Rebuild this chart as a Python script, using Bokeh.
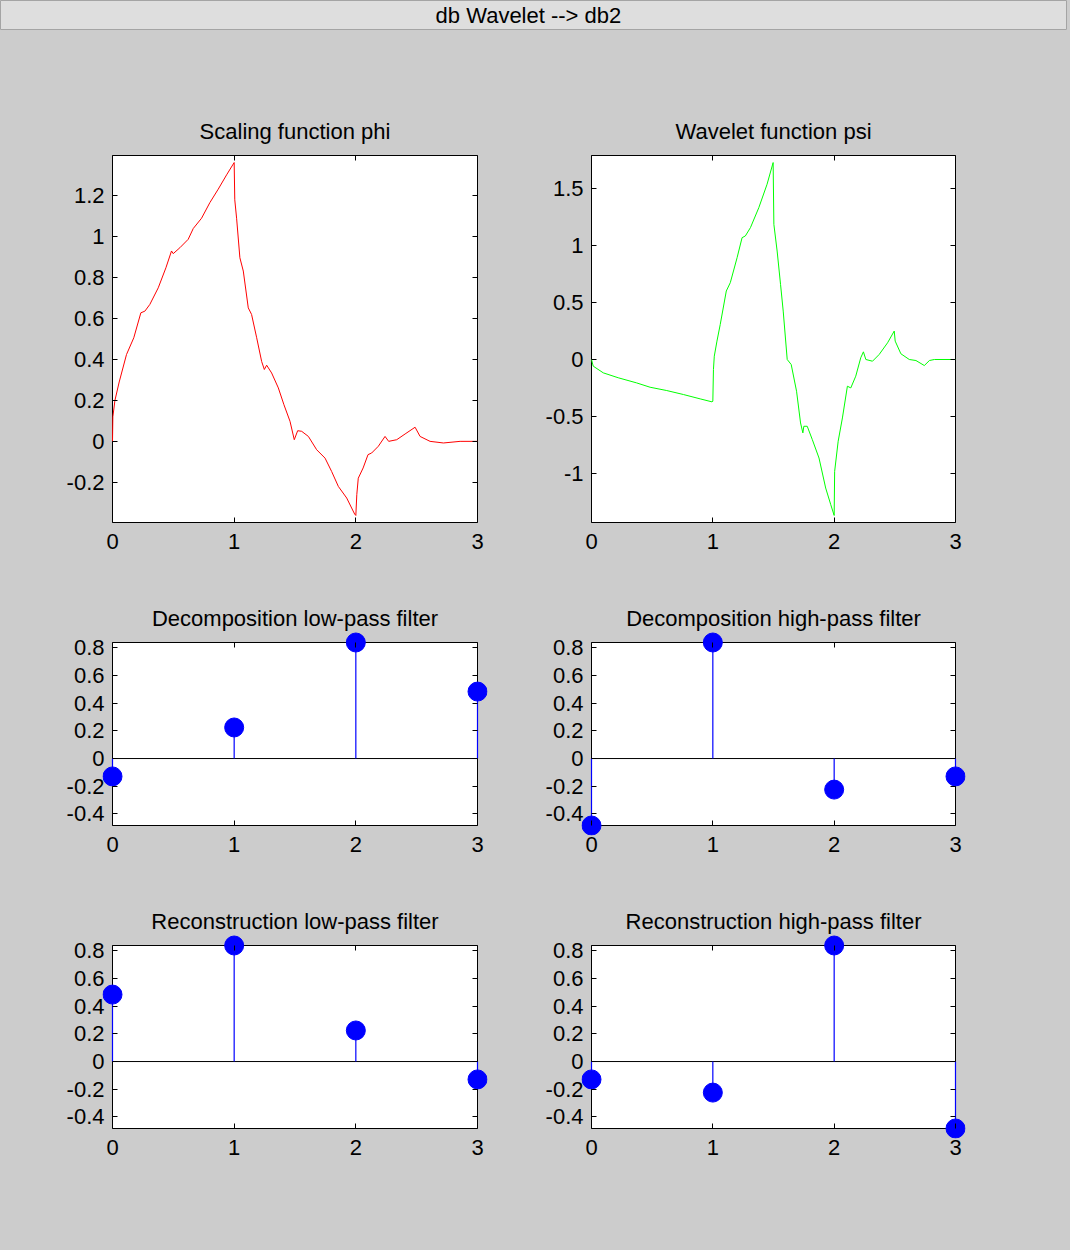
import re
from bokeh.plotting import figure
from bokeh.models import Range1d, LinearAxis, FixedTicker, Label
from bokeh.layouts import column, row
from bokeh.embed import file_html
from bokeh.resources import INLINE

FONT = "Liberation Sans"
FONT_SIZE = "22px"
BG = "#cccccc"

window_title = "db Wavelet -->  db2"

# ---- data ----
phi_x = [0, 0.003, 0.02, 0.055, 0.115, 0.175, 0.233, 0.266, 0.307, 0.376, 0.439, 0.485, 0.499,
         0.554, 0.622, 0.664, 0.732, 0.8, 0.869, 0.938, 1.0, 1.005, 1.02, 1.047, 1.075, 1.116,
         1.143, 1.185, 1.226, 1.248, 1.267, 1.308, 1.363, 1.409, 1.459, 1.494, 1.522, 1.555,
         1.61, 1.678, 1.747, 1.801, 1.856, 1.925, 1.99, 2.0, 2.008, 2.02, 2.06, 2.1, 2.13,
         2.185, 2.24, 2.27, 2.336, 2.405, 2.487, 2.528, 2.61, 2.72, 2.857, 3.0]
phi_y = [0, 0.12, 0.2, 0.29, 0.424, 0.506, 0.628, 0.636, 0.669, 0.75, 0.848, 0.93, 0.917,
         0.946, 0.987, 1.04, 1.09, 1.166, 1.232, 1.302, 1.362, 1.18, 1.09, 0.897, 0.832, 0.652,
         0.62, 0.506, 0.39, 0.351, 0.372, 0.334, 0.261, 0.179, 0.098, 0.008, 0.052, 0.049,
         0.024, -0.041, -0.082, -0.147, -0.22, -0.277, -0.355, -0.362, -0.26, -0.18, -0.13,
         -0.065, -0.057, -0.024, 0.024, 0.0, 0.008, 0.036, 0.069, 0.024, 0.0, -0.008, 0.0, 0.0]

psi_x = [0, 0.014, 0.097, 0.22, 0.372, 0.483, 0.62, 0.758, 0.896, 0.993, 1.0, 1.005, 1.012,
         1.034, 1.061, 1.111, 1.144, 1.2, 1.241, 1.268, 1.31, 1.379, 1.447, 1.497, 1.503, 1.53,
         1.558, 1.58, 1.613, 1.646, 1.69, 1.723, 1.742, 1.75, 1.778, 1.82, 1.875, 1.93, 1.972,
         2.0, 2.004, 2.033, 2.068, 2.109, 2.137, 2.178, 2.219, 2.241, 2.261, 2.316, 2.371,
         2.44, 2.495, 2.503, 2.55, 2.619, 2.674, 2.743, 2.785, 2.826, 3.0]
psi_y = [0, -0.058, -0.117, -0.16, -0.205, -0.243, -0.272, -0.307, -0.345, -0.371, -0.366,
         -0.088, 0.029, 0.161, 0.307, 0.6, 0.673, 0.892, 1.067, 1.082, 1.155, 1.33, 1.535,
         1.725, 1.184, 0.95, 0.658, 0.424, 0.0, -0.044, -0.278, -0.556, -0.643, -0.585, -0.585,
         -0.702, -0.863, -1.126, -1.272, -1.366, -0.98, -0.716, -0.512, -0.234, -0.249, -0.146,
         0.015, 0.067, 0.0, -0.015, 0.044, 0.146, 0.249, 0.161, 0.05, 0.0, -0.009, -0.053,
         -0.009, 0.0, 0.0]

filter_index = [0, 1, 2, 3]
lo_d = [-0.129, 0.224, 0.837, 0.483]
hi_d = [-0.483, 0.837, -0.224, -0.129]
lo_r = [0.483, 0.837, 0.224, -0.129]
hi_r = [-0.129, -0.224, 0.837, -0.483]

x_ticks = [0, 1, 2, 3]
x_tick_labels = ["0", "1", "2", "3"]
phi_ticks = [-0.2, 0, 0.2, 0.4, 0.6, 0.8, 1, 1.2]
phi_tick_labels = ["-0.2", "0", "0.2", "0.4", "0.6", "0.8", "1", "1.2"]
psi_ticks = [-1, -0.5, 0, 0.5, 1, 1.5]
psi_tick_labels = ["-1", "-0.5", "0", "0.5", "1", "1.5"]
filt_ticks = [-0.4, -0.2, 0, 0.2, 0.4, 0.6, 0.8]
filt_tick_labels = ["-0.4", "-0.2", "0", "0.2", "0.4", "0.6", "0.8"]

# frame padding around the axes box (px): left, right, bottom, top
PL, PR, PB, PT = 10, 10, 10, 44


def label_axis(p, side, ticks, labels, standoff):
    ax = LinearAxis(
        ticker=FixedTicker(ticks=ticks),
        axis_line_color=None,
        major_tick_line_color=None,
        major_tick_in=0,
        major_tick_out=0,
        minor_tick_line_color=None,
        major_label_standoff=standoff,
        major_label_text_font=FONT,
        major_label_text_font_size=FONT_SIZE,
        major_label_text_color="black",
        major_label_overrides=dict(zip(ticks, labels)),
    )
    p.add_layout(ax, side)


def tick_axis(p, side, ticks, loc, bounds):
    ax = LinearAxis(
        ticker=FixedTicker(ticks=ticks),
        fixed_location=loc,
        bounds=bounds,
        axis_line_color=None,
        major_tick_line_color="black",
        major_tick_line_width=1,
        major_tick_in=5,
        major_tick_out=0,
        minor_tick_line_color=None,
        major_label_standoff=0,
        major_label_text_font_size="0px",
        major_label_overrides={t: "" for t in ticks},
    )
    p.add_layout(ax, side)


def base_figure(**kw):
    p = figure(x_axis_location=None, y_axis_location=None, toolbar_location=None,
               output_backend="svg", border_fill_color=BG, **kw)
    p.grid.visible = False
    return p


def make_panel(title, box_w, box_h, borders, y_ticks, y_labels, ylo, yhi, x0, x1):
    bl, br, bt, bb = borders
    xpp = (x1 - x0) / box_w
    ypp = (yhi - ylo) / box_h
    p = base_figure(
        frame_width=box_w + PL + PR,
        frame_height=box_h + PB + PT,
        x_range=Range1d(x0 - PL * xpp, x1 + PR * xpp),
        y_range=Range1d(ylo - PB * ypp, yhi + PT * ypp),
        background_fill_color=BG,
        outline_line_color=None,
        min_border_left=bl,
        min_border_right=br,
        min_border_top=bt,
        min_border_bottom=bb,
    )
    # white axes box with black outline
    p.quad(left=[x0], right=[x1], bottom=[ylo], top=[yhi],
           fill_color="white", fill_alpha=1.0, line_color="black", line_width=1)
    label_axis(p, "below", x_ticks, x_tick_labels, 1)
    label_axis(p, "left", y_ticks, y_labels, -2)
    tick_axis(p, "below", x_ticks, ylo, (x0, x1))
    tick_axis(p, "above", x_ticks, yhi, (x0, x1))
    tick_axis(p, "left", y_ticks, x0, (ylo, yhi))
    tick_axis(p, "right", y_ticks, x1, (ylo, yhi))
    p.add_layout(Label(x=(x0 + x1) / 2, y=yhi, y_offset=24, text=title,
                       text_align="center", text_baseline="alphabetic",
                       text_font=FONT, text_font_size=FONT_SIZE, text_color="black"))
    return p


def curve_panel(title, xs, ys, color, ticks, labels, borders, box_w, box_h):
    rng = max(ys) - min(ys)
    ylo, yhi = min(ys) - 0.02 * rng, max(ys) + 0.02 * rng
    p = make_panel(title, box_w, box_h, borders, ticks, labels, ylo, yhi, min(xs), max(xs))
    p.line(xs, ys, line_color=color, line_width=1)
    return p


all_filters = lo_d + hi_d + lo_r + hi_r
FILT_LO, FILT_HI = min(all_filters), max(all_filters)


def stem_panel(title, vals, borders, box_w, box_h):
    x0, x1 = min(filter_index), max(filter_index)
    p = make_panel(title, box_w, box_h, borders, filt_ticks, filt_tick_labels,
                   FILT_LO, FILT_HI, x0, x1)
    p.line([x0, x1], [0, 0], line_color="black", line_width=1)
    p.segment(x0=filter_index, y0=[0] * len(vals), x1=filter_index, y1=vals,
              line_color="#0000ff", line_width=1.2)
    p.scatter(filter_index, vals, size=19, fill_color="#0000ff", line_color="#0000ff")
    return p


LEFT = (102, 38)
RIGHT = (56, 102)

p1 = curve_panel("Scaling function phi", phi_x, phi_y, "#ff0000", phi_ticks, phi_tick_labels,
                 LEFT + (81, 48), 365, 367)
p2 = curve_panel("Wavelet function psi", psi_x, psi_y, "#00ff00", psi_ticks, psi_tick_labels,
                 RIGHT + (81, 48), 364, 367)
p3 = stem_panel("Decomposition low-pass filter", lo_d, LEFT + (18, 45), 365, 183)
p4 = stem_panel("Decomposition high-pass filter", hi_d, RIGHT + (18, 45), 364, 183)
p5 = stem_panel("Reconstruction low-pass filter", lo_r, LEFT + (21, 102), 365, 183)
p6 = stem_panel("Reconstruction high-pass filter", hi_r, RIGHT + (21, 102), 364, 183)

# window title bar
bar = base_figure(frame_width=1067, frame_height=30, x_range=Range1d(0, 1067),
                  y_range=Range1d(0, 30), background_fill_color="#dedede",
                  outline_line_color="#a4a4a4", min_border_left=0, min_border_right=0,
                  min_border_top=0, min_border_bottom=0)
bar.add_layout(Label(x=531, y=15, text=window_title, text_align="center",
                     text_baseline="alphabetic", text_font=FONT, text_font_size=FONT_SIZE,
                     text_color="black"))

layout = column(bar, row(p1, p2), row(p3, p4), row(p5, p6))

html = file_html(layout, INLINE, title="db Wavelet --> db2")
style = "<style>html, body { margin: 0 !important; background-color: #cccccc !important; }</style>"
html = html.replace("</head>", style + "</head>", 1)
html = re.sub(r"<body[^>]*>", '<body style="margin:0; background-color:#cccccc;">', html, count=1)
open("out.html", "w").write(html)
